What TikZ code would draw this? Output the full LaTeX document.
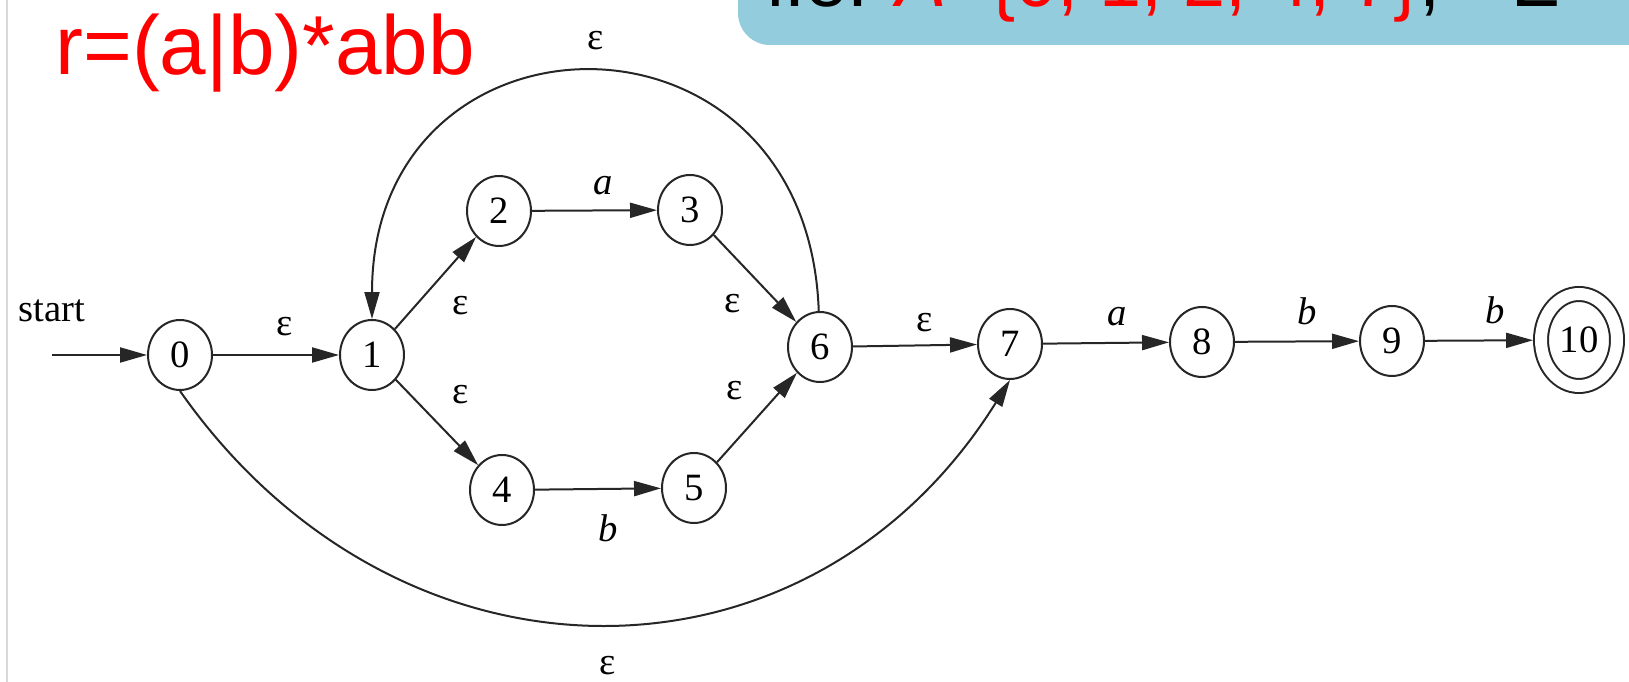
\documentclass[tikz,border=0pt]{standalone}
\usepackage{fontspec}
\setmainfont{Liberation Serif}
\setsansfont{Liberation Sans}
\usetikzlibrary{arrows.meta,positioning,shapes.geometric}
\definecolor{slideblue}{RGB}{147,205,221}

\begin{document}
\begin{tikzpicture}[
  x=0.02cm, y=0.02cm, >=Triangle,
  nfastate/.style={ellipse, draw=black!85, line width=0.04cm, minimum width=1.28cm, minimum height=1.4cm, inner sep=0pt, font=\fontsize{22}{22}\selectfont},
  finalstate/.style={nfastate, minimum width=1.52cm, minimum height=1.84cm, double, double distance=0.24cm, outer sep=0.16cm},
  line/.style={draw=black!85, line width=0.04cm, -{Triangle[length=0.54cm, width=0.3cm]}},
  lbl/.style={font=\fontsize{22}{22}\selectfont, inner sep=0pt}
]

  % Page frame
  \fill[white] (0,0) rectangle (1629,682);
  \useasboundingbox (0,0) rectangle (1629,682);
  \draw[black!15, line width=0.06cm] (7,0) -- (7,682);

  % ==================== SLIDE HEADER ====================
  \fill[slideblue, rounded corners=0.64cm] (738,637) rectangle (1720,760);
  \node[anchor=base west, inner sep=0pt, font=\sffamily\fontsize{43}{43}\selectfont] (settext) at (767,675) {i.e. \textcolor{red}{\textit{A}=\{0, 1, 2, 4, 7\}},};
  \node[anchor=base west, inner sep=0pt, font=\sffamily\fontsize{43}{43}\selectfont] (sigma) at (1513,675) {Σ};
  \node[anchor=base west, inner sep=0pt, text=red, font=\sffamily\fontsize{47.6}{48}\selectfont] (regex) at (55,607) {r=(a|b)*abb};

  % ==================== STATES ====================
  \node[nfastate] (n0) at (180,327) {0};
  \node[nfastate] (n1) at (372,327) {1};
  % upper branch (a)
  \node[nfastate] (n2) at (499,471) {2};
  \node[nfastate] (n3) at (690,472) {3};
  % lower branch (b)
  \node[nfastate] (n4) at (502,192) {4};
  \node[nfastate] (n5) at (694,194) {5};
  \node[nfastate] (n6) at (820,335) {6};
  % tail abb
  \node[nfastate] (n7) at (1010,338) {7};
  \node[nfastate] (n8) at (1202,340) {8};
  \node[nfastate] (n9) at (1392,341) {9};
  \node[finalstate] (n10) at (1579,342) {10};

  % start arrow
  \coordinate (s0) at (52,327);
  \node[lbl] (start) at (52,371) {start};
  \draw[line] (s0) -- (n0);

  % ==================== TRANSITIONS ====================
  \draw[line] (n0) -- (n1) node[lbl, midway, shift={(9,28)}] {ε};
  \draw[line] (n1) -- (n2) node[lbl, midway, shift={(25,-23)}] {ε};
  \draw[line] (n1) -- (n4) node[lbl, midway, shift={(24,28)}] {ε};
  \draw[line] (n2) -- (n3) node[lbl, midway, shift={(9,25)}] {\textit{a}};
  \draw[line] (n4) -- (n5) node[lbl, midway, shift={(10,-39)}] {\textit{b}};
  \draw[line] (n3) -- (n6) node[lbl, midway, shift={(-22,-25)}] {ε};
  \draw[line] (n5) -- (n6) node[lbl, midway, shift={(-22,27)}] {ε};
  \draw[line] (n6) -- (n7) node[lbl, midway, shift={(10,23)}] {ε};
  \draw[line] (n7) -- (n8) node[lbl, midway, shift={(11,26)}] {\textit{a}};
  \draw[line] (n8) -- (n9) node[lbl, midway, shift={(10,30)}] {\textit{b}};
  \draw[line] (n9) -- (n10) node[lbl, midway, shift={(16,30)}] {\textit{b}};

  % loop back and skip
  \draw[line] (n6) to[out=92, in=90, looseness=1.85] node[lbl, midway, shift={(4,32)}] {ε} (n1);
  \draw[line] (n0.south) to[out=-55, in=-122, looseness=1.17] node[lbl, midway, shift={(6,-42)}] {ε} (n7.south);

\end{tikzpicture}
\end{document}
